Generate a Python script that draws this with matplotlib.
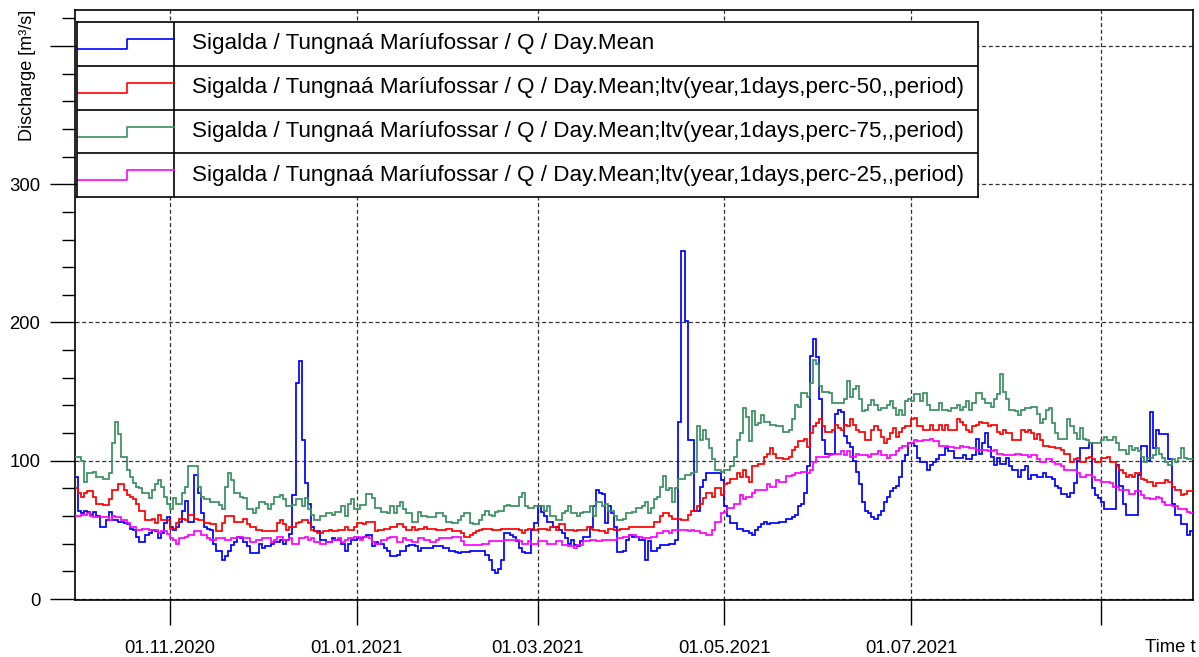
import numpy as np
import matplotlib
matplotlib.use("Agg")
import matplotlib.pyplot as plt
import matplotlib.dates as mdates
from matplotlib.ticker import FixedLocator, FixedFormatter, MultipleLocator
from datetime import datetime

plt.rcParams['font.family'] = ['Liberation Sans', 'DejaVu Sans']
plt.rcParams['lines.scale_dashes'] = False

# ---- daily series, starting 01.10.2020 ----
start_day = datetime(2020, 10, 1)

day_mean = [
    88, 64, 62, 64, 63, 61, 63, 60, 52, 52,
    57, 63, 57, 57, 56, 56, 55, 54, 51, 50,
    45, 41, 41, 46, 48, 50, 49, 44, 48, 55,
    59, 52, 50, 52, 56, 64, 71, 56, 56, 90,
    77, 62, 52, 51, 50, 40, 35, 35, 28, 31,
    35, 39, 41, 45, 44, 41, 38, 33, 33, 33,
    40, 37, 38, 38, 40, 41, 41, 43, 40, 43,
    47, 75, 156, 172, 115, 84, 69, 52, 49, 49,
    43, 43, 41, 41, 44, 43, 43, 40, 35, 40,
    43, 43, 44, 44, 45, 46, 46, 38, 41, 40,
    40, 37, 35, 31, 31, 32, 35, 35, 38, 39,
    39, 38, 35, 37, 37, 37, 37, 38, 38, 38,
    37, 37, 35, 35, 34, 33, 34, 34, 34, 35,
    35, 35, 35, 35, 32, 28, 21, 19, 22, 28,
    48, 48, 46, 45, 42, 37, 34, 33, 33, 50,
    55, 67, 63, 60, 56, 56, 52, 52, 50, 48,
    44, 40, 43, 39, 38, 42, 45, 45, 52, 67,
    79, 77, 76, 55, 67, 62, 52, 34, 34, 35,
    43, 46, 45, 45, 43, 43, 28, 42, 35, 35,
    37, 39, 39, 39, 40, 40, 43, 128, 252, 201,
    115, 115, 64, 64, 81, 86, 91, 91, 91, 91,
    91, 86, 67, 60, 55, 55, 51, 51, 49, 49,
    48, 46, 50, 52, 54, 56, 54, 55, 55, 55,
    56, 56, 58, 58, 59, 61, 67, 69, 77, 96,
    176, 188, 175, 145, 115, 105, 105, 105, 134, 137,
    135, 118, 113, 110, 100, 92, 83, 70, 64, 62,
    59, 58, 61, 64, 70, 74, 78, 80, 82, 88,
    100, 104, 113, 113, 111, 102, 99, 99, 93, 97,
    99, 101, 104, 104, 109, 107, 107, 102, 102, 102,
    104, 101, 101, 104, 116, 105, 113, 120, 110, 103,
    97, 102, 98, 98, 102, 96, 93, 93, 88, 93,
    96, 87, 90, 90, 88, 88, 91, 88, 88, 87,
    82, 80, 76, 76, 74, 77, 84, 100, 109, 109,
    109, 113, 80, 75, 73, 70, 65, 65, 65, 65,
    97, 82, 69, 61, 61, 61, 61, 90, 111, 111,
    100, 135, 109, 122, 119, 119, 119, 101, 69, 61,
    61, 54, 54, 46, 49,
]

perc_50 = [
    80, 77, 74, 77, 78, 78, 74, 69, 69, 68,
    68, 72, 79, 79, 83, 83, 79, 75, 74, 72,
    69, 64, 64, 57, 57, 58, 55, 61, 57, 57,
    57, 51, 51, 55, 58, 58, 57, 61, 61, 58,
    57, 57, 55, 55, 54, 54, 49, 49, 55, 60,
    60, 60, 56, 56, 56, 58, 54, 52, 52, 50,
    50, 49, 49, 49, 49, 49, 55, 57, 54, 50,
    52, 52, 55, 56, 57, 57, 55, 50, 49, 48,
    48, 49, 49, 50, 49, 49, 50, 50, 52, 50,
    50, 52, 55, 55, 54, 56, 56, 56, 49, 50,
    50, 51, 51, 52, 52, 54, 54, 52, 50, 50,
    52, 50, 51, 51, 52, 51, 51, 51, 50, 50,
    50, 51, 51, 49, 49, 49, 48, 45, 45, 46,
    48, 49, 50, 51, 51, 51, 50, 50, 50, 51,
    51, 51, 51, 51, 51, 50, 48, 50, 51, 51,
    50, 51, 51, 51, 50, 52, 52, 50, 54, 54,
    50, 50, 50, 49, 50, 50, 50, 52, 51, 50,
    50, 49, 49, 48, 51, 51, 50, 50, 51, 51,
    51, 52, 52, 52, 52, 52, 52, 52, 52, 56,
    56, 60, 62, 62, 60, 58, 58, 58, 57, 57,
    61, 64, 64, 67, 69, 73, 77, 77, 74, 80,
    80, 75, 83, 84, 87, 87, 91, 88, 93, 88,
    85, 96, 96, 98, 98, 103, 105, 109, 105, 102,
    102, 101, 101, 103, 108, 110, 114, 114, 116, 110,
    120, 125, 127, 130, 125, 121, 121, 122, 126, 124,
    122, 126, 125, 130, 126, 122, 121, 121, 115, 115,
    122, 125, 122, 117, 113, 116, 120, 124, 117, 121,
    124, 125, 125, 130, 131, 125, 125, 122, 122, 126,
    122, 122, 126, 122, 126, 122, 122, 122, 130, 128,
    126, 122, 121, 125, 126, 128, 127, 127, 125, 126,
    126, 121, 119, 122, 120, 120, 115, 115, 115, 122,
    121, 122, 120, 116, 119, 115, 111, 111, 110, 110,
    109, 109, 108, 105, 105, 99, 101, 102, 99, 99,
    102, 103, 101, 99, 99, 102, 102, 103, 99, 99,
    96, 93, 91, 88, 90, 88, 91, 91, 87, 86,
    85, 85, 82, 84, 84, 84, 86, 85, 81, 79,
    79, 75, 76, 78, 78,
]

perc_75 = [
    103, 103, 100, 85, 91, 91, 92, 88, 88, 87,
    87, 91, 113, 128, 119, 103, 103, 93, 88, 84,
    81, 80, 77, 77, 73, 79, 83, 86, 81, 74,
    69, 65, 73, 69, 69, 77, 81, 96, 96, 96,
    81, 74, 72, 72, 70, 70, 70, 68, 65, 81,
    91, 86, 77, 77, 74, 73, 65, 65, 62, 66,
    70, 70, 69, 65, 69, 74, 74, 75, 72, 67,
    67, 68, 72, 72, 67, 73, 65, 61, 57, 57,
    60, 60, 62, 62, 61, 63, 63, 67, 60, 69,
    72, 65, 65, 68, 68, 76, 76, 73, 66, 66,
    63, 63, 62, 67, 62, 67, 70, 65, 62, 62,
    56, 56, 63, 60, 60, 59, 59, 59, 62, 62,
    60, 56, 56, 55, 55, 57, 60, 62, 62, 55,
    54, 54, 57, 61, 64, 61, 60, 63, 64, 64,
    67, 68, 67, 67, 67, 74, 77, 67, 66, 66,
    67, 67, 67, 64, 67, 60, 60, 57, 57, 62,
    64, 67, 62, 62, 60, 62, 63, 63, 67, 60,
    70, 70, 67, 69, 64, 64, 60, 57, 57, 58,
    62, 62, 63, 66, 66, 67, 70, 62, 66, 72,
    74, 81, 89, 79, 80, 70, 80, 87, 87, 90,
    90, 91, 92, 125, 115, 122, 116, 109, 101, 93,
    93, 92, 93, 93, 96, 103, 115, 120, 138, 132,
    114, 136, 126, 127, 133, 128, 128, 126, 126, 125,
    125, 121, 121, 122, 130, 140, 139, 149, 149, 146,
    156, 173, 170, 154, 150, 150, 149, 142, 142, 142,
    142, 145, 158, 146, 152, 154, 145, 136, 137, 140,
    144, 140, 137, 138, 138, 140, 143, 138, 133, 137,
    133, 143, 145, 143, 148, 148, 143, 149, 140, 137,
    137, 137, 142, 137, 137, 136, 138, 138, 140, 137,
    139, 143, 137, 142, 149, 149, 145, 142, 142, 139,
    145, 148, 163, 150, 145, 137, 137, 136, 133, 137,
    138, 138, 139, 139, 134, 127, 130, 137, 138, 127,
    120, 116, 116, 116, 130, 125, 120, 116, 124, 116,
    115, 113, 113, 113, 113, 115, 117, 115, 115, 117,
    113, 108, 108, 105, 111, 108, 109, 107, 103, 99,
    102, 102, 104, 109, 105, 102, 99, 97, 101, 99,
    102, 109, 102, 101, 101,
]

perc_25 = [
    60, 60, 61, 61, 62, 60, 59, 59, 59, 59,
    59, 57, 60, 59, 59, 57, 57, 55, 52, 52,
    50, 50, 51, 51, 50, 50, 50, 48, 49, 49,
    47, 44, 43, 40, 44, 44, 45, 46, 46, 49,
    49, 46, 46, 44, 43, 43, 44, 44, 44, 43,
    43, 44, 44, 45, 45, 44, 44, 41, 41, 43,
    43, 44, 44, 44, 41, 43, 45, 45, 43, 43,
    44, 40, 40, 44, 44, 45, 43, 44, 41, 41,
    40, 40, 41, 41, 43, 43, 44, 41, 43, 44,
    44, 45, 45, 43, 45, 45, 44, 41, 40, 40,
    43, 43, 44, 45, 45, 41, 41, 44, 43, 43,
    41, 41, 44, 44, 43, 43, 41, 41, 43, 44,
    44, 44, 44, 45, 45, 45, 42, 39, 39, 39,
    39, 39, 39, 40, 40, 42, 42, 42, 42, 42,
    43, 43, 43, 43, 43, 42, 40, 40, 42, 40,
    40, 42, 42, 42, 40, 40, 40, 42, 42, 39,
    39, 38, 38, 37, 39, 39, 42, 42, 43, 43,
    42, 42, 43, 43, 43, 43, 43, 44, 44, 45,
    45, 46, 46, 45, 45, 44, 44, 44, 45, 45,
    48, 48, 49, 49, 48, 50, 50, 50, 50, 50,
    49, 50, 49, 49, 48, 48, 46, 46, 50, 56,
    56, 62, 63, 66, 66, 69, 69, 75, 72, 74,
    74, 77, 79, 79, 79, 79, 83, 81, 81, 86,
    85, 85, 89, 89, 90, 91, 91, 92, 92, 91,
    93, 99, 103, 103, 103, 103, 104, 105, 105, 105,
    107, 104, 107, 103, 103, 105, 104, 104, 104, 103,
    105, 105, 107, 104, 104, 102, 104, 104, 107, 109,
    111, 111, 113, 113, 115, 114, 114, 115, 115, 116,
    114, 114, 111, 111, 111, 110, 110, 109, 109, 111,
    110, 110, 109, 109, 108, 108, 108, 108, 107, 107,
    108, 105, 105, 104, 104, 104, 104, 105, 105, 104,
    104, 103, 104, 104, 101, 99, 99, 101, 101, 99,
    98, 98, 96, 93, 93, 93, 93, 91, 88, 88,
    90, 90, 88, 86, 86, 85, 85, 85, 84, 81,
    81, 79, 79, 79, 76, 76, 78, 78, 75, 73,
    73, 72, 72, 74, 73, 70, 68, 68, 67, 67,
    65, 65, 65, 63, 62,
]

series_names = [
    "Sigalda / Tungnaá Maríufossar / Q / Day.Mean",
    "Sigalda / Tungnaá Maríufossar / Q / Day.Mean;ltv(year,1days,perc-50,,period)",
    "Sigalda / Tungnaá Maríufossar / Q / Day.Mean;ltv(year,1days,perc-75,,period)",
    "Sigalda / Tungnaá Maríufossar / Q / Day.Mean;ltv(year,1days,perc-25,,period)",
]
series_values = [day_mean, perc_50, perc_75, perc_25]
series_colors = ["#0000ff", "#ff0000", "#3a9060", "#ff00ff"]

tick_dates = [datetime(2020, 11, 1), datetime(2021, 1, 1), datetime(2021, 3, 1),
              datetime(2021, 5, 1), datetime(2021, 7, 1), datetime(2021, 9, 1)]
tick_labels = ["01.11.2020", "01.01.2021", "01.03.2021", "01.05.2021", "01.07.2021", ""]
y_ticks = [0, 100, 200, 300, 400]
y_labels = ["0", "100", "200", "300", ""]

# ---- figure ----
W, H = 1199, 657
fig = plt.figure(figsize=(W / 100, H / 100), dpi=100)
ax = fig.add_axes([75 / W, (H - 600) / H, 1118 / W, 590 / H])

t0 = mdates.date2num(start_day)
for vals, col in zip(series_values, series_colors):
    edges = t0 + np.arange(len(vals) + 1)
    ax.stairs(vals, edges, color=col, lw=1.25, baseline=None, zorder=3)

ax.set_xlim(t0, t0 + 365)
ax.set_ylim(-0.7, 426)

ax.xaxis.set_major_locator(FixedLocator(mdates.date2num(tick_dates)))
ax.xaxis.set_major_formatter(FixedFormatter(tick_labels))
ax.yaxis.set_major_locator(FixedLocator(y_ticks))
ax.yaxis.set_major_formatter(FixedFormatter(y_labels))
ax.yaxis.set_minor_locator(MultipleLocator(20))

ax.tick_params(axis='x', which='major', direction='out', length=18, width=1,
               labelsize=13.3, pad=10.5, color='black')
ax.tick_params(axis='y', which='major', direction='out', length=18, width=1,
               labelsize=13.3, pad=7, color='black')
ax.tick_params(axis='y', which='minor', direction='out', length=9.5, width=1, color='black')

ax.grid(True, which='major', linestyle=(0, (2.9, 1.9)), color='#303030', lw=0.9, zorder=1)
for s in ax.spines.values():
    s.set_linewidth(1.2)
    s.set_color('black')

fig.text(28 / W, 1 - 10 / H, "Discharge [m³/s]", rotation=90, ha='center', va='top',
         fontsize=13)
fig.text(1196 / W, 1 - 647 / H, "Time t", ha='right', va='center', fontsize=13.3)

# ---- boxed legend ----
lx0, lx1, ly0, ly1 = 77, 978, 22, 197
lax = fig.add_axes([lx0 / W, 1 - ly1 / H, (lx1 - lx0) / W, (ly1 - ly0) / H])
lax.set_xlim(lx0, lx1)
lax.set_ylim(ly1, ly0)
lax.set_xticks([])
lax.set_yticks([])
lax.set_facecolor('white')
for s in lax.spines.values():
    s.set_linewidth(1.2)
    s.set_color('black')

row_h = (ly1 - ly0) / len(series_names)
sep_x = 174
step_x = 127
lax.plot([sep_x, sep_x], [ly0, ly1], color='black', lw=1.2)
for i, (name, col) in enumerate(zip(series_names, series_colors)):
    top = ly0 + i * row_h
    if i > 0:
        lax.plot([lx0, lx1], [top, top], color='black', lw=1.2)
    lo, hi = top + 27, top + 17
    lax.plot([lx0 + 1, step_x, step_x, sep_x], [lo, lo, hi, hi], color=col, lw=1.2)
    lax.text(192, top + row_h / 2, name, ha='left', va='center', fontsize=16.1)

fig.savefig("out.png", dpi=100)
